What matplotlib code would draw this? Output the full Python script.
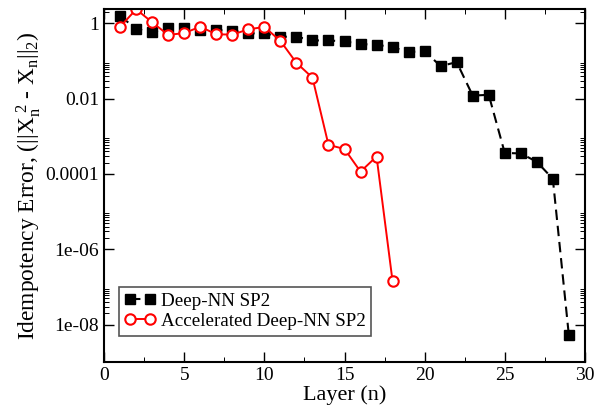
import matplotlib
matplotlib.use("Agg")
import matplotlib.pyplot as plt
from matplotlib.ticker import FixedLocator, MultipleLocator, FixedFormatter
import numpy as np

plt.rcParams['font.family'] = ['Liberation Serif', 'DejaVu Serif']
plt.rcParams['mathtext.fontset'] = 'custom'
plt.rcParams['mathtext.rm'] = 'Liberation Serif'
plt.rcParams['mathtext.it'] = 'Liberation Serif'
plt.rcParams['mathtext.bf'] = 'Liberation Serif:bold'

layers_deep = list(range(1, 30))
err_deep = [1.56, 0.71, 0.58, 0.77, 0.74, 0.66, 0.66, 0.64, 0.54, 0.54,
            0.44, 0.44, 0.35, 0.35, 0.33, 0.28, 0.27, 0.23, 0.174, 0.18,
            0.073, 0.093, 0.012, 0.0126, 3.6e-4, 3.5e-4, 2.1e-4, 7.4e-5, 5.2e-9]

layers_acc = list(range(1, 19))
err_acc = [0.81, 2.35, 1.06, 0.49, 0.55, 0.81, 0.51, 0.50, 0.69, 0.80,
           0.34, 0.089, 0.036, 5.9e-4, 4.6e-4, 1.15e-4, 2.9e-4, 1.4e-7]

ytick_vals = [1, 1e-2, 1e-4, 1e-6, 1e-8]
ytick_labels = ["1", "0.01", "0.0001", "1e-06", "1e-08"]

fig = plt.figure(figsize=(5.95, 4.07), dpi=100)
ax = fig.add_axes([0.175, 0.110, 0.808, 0.868])

ax.plot(layers_deep, err_deep, color='black', linestyle=(0, (5, 2.8)), linewidth=1.5,
        marker='s', markersize=6.5, markerfacecolor='black', markeredgecolor='black',
        label='Deep-NN SP2')
ax.plot(layers_acc, err_acc, color='red', linestyle='-', linewidth=1.4,
        marker='o', markersize=7.5, markerfacecolor='white', markeredgecolor='red',
        markeredgewidth=1.5, label='Accelerated Deep-NN SP2')

ax.set_yscale('log')
ax.set_xlim(0, 30)
ax.set_ylim(1e-9, 2.4)

ax.xaxis.set_major_locator(MultipleLocator(5))
ax.xaxis.set_minor_locator(MultipleLocator(2.5))
ax.yaxis.set_major_locator(FixedLocator(ytick_vals))
ax.yaxis.set_major_formatter(FixedFormatter(ytick_labels))
minors = [k * 10.0**e for e in range(-10, 1, 2) for k in range(2, 10)]
ax.yaxis.set_minor_locator(FixedLocator(minors))
ax.yaxis.set_minor_formatter(FixedFormatter([""] * len(minors)))

ax.tick_params(which='both', direction='in', top=True, right=True)
ax.tick_params(which='major', length=7, width=1.0, labelsize=14)
ax.tick_params(which='minor', length=3.6, width=0.7)
for s in ax.spines.values():
    s.set_linewidth(1.5)

ax.set_xlabel('Layer (n)', fontsize=16, labelpad=1)
ax.set_ylabel(r'Idempotency Error, (||X$_{n}^{\ 2}$ - X$_{n}$||$_{2}$)', fontsize=16.8, labelpad=2)

leg = ax.legend(loc='lower left', bbox_to_anchor=(0.03, 0.075), numpoints=2, fontsize=13.7,
                fancybox=False, framealpha=1, edgecolor='#555555', borderpad=0.3,
                handlelength=1.67, handletextpad=0.26, labelspacing=0.15, borderaxespad=0)
leg.get_frame().set_linewidth(1.2)

fig.savefig('out.png', dpi=100)
